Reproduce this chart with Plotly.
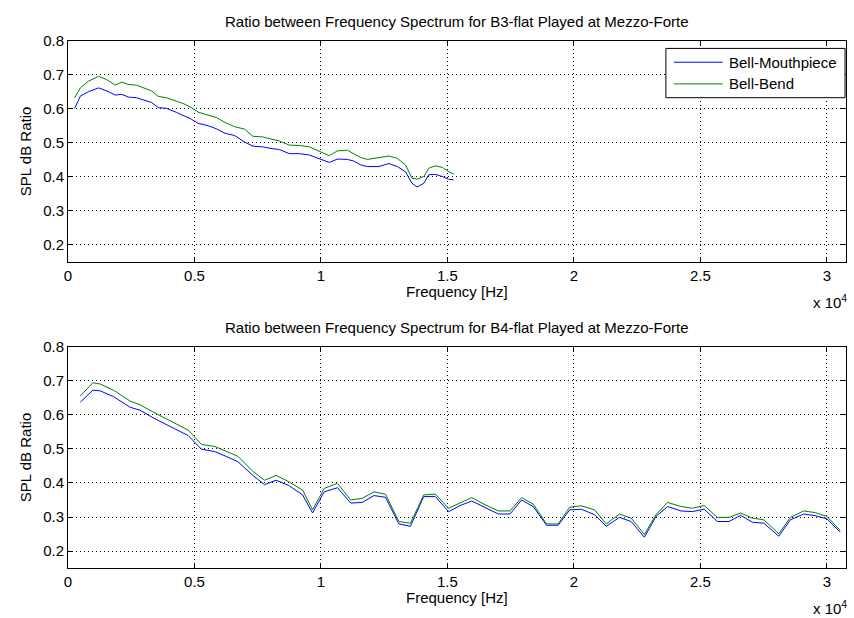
import plotly.graph_objects as go

# ---------------- data ----------------
top_freq = [264, 490, 815, 1210, 1535, 1865, 2125, 2390, 2715, 3045, 3305, 3570, 3895,
            4290, 4620, 4880, 5145, 5540, 5865, 6195, 6590, 6980, 7310, 7700, 8030, 8360,
            8750, 9145, 9540, 9930, 10330, 10650, 11050, 11310, 11570, 11830, 12290, 12690,
            13020, 13340, 13600, 13800, 14070, 14260, 14520, 14790, 15050, 15250]
top_mouth = [0.601, 0.637, 0.650, 0.661, 0.652, 0.640, 0.642, 0.634, 0.632, 0.624, 0.618, 0.603, 0.601,
             0.589, 0.579, 0.569, 0.557, 0.550, 0.541, 0.528, 0.521, 0.502, 0.490, 0.488, 0.483, 0.480,
             0.468, 0.468, 0.464, 0.454, 0.442, 0.452, 0.451, 0.446, 0.435, 0.430, 0.430, 0.439,
             0.430, 0.415, 0.381, 0.370, 0.381, 0.406, 0.407, 0.401, 0.393, 0.391]
top_bend = [0.632, 0.661, 0.681, 0.695, 0.685, 0.669, 0.678, 0.671, 0.669, 0.659, 0.652, 0.636, 0.632,
            0.622, 0.613, 0.603, 0.590, 0.581, 0.574, 0.560, 0.547, 0.540, 0.519, 0.517, 0.512, 0.505,
            0.493, 0.492, 0.488, 0.476, 0.462, 0.476, 0.478, 0.467, 0.457, 0.451, 0.457, 0.461,
            0.454, 0.435, 0.396, 0.393, 0.401, 0.425, 0.432, 0.428, 0.415, 0.408]

bot_freq = [488, 985, 1275, 1800, 2455, 2850, 3440, 4160, 4750, 5275, 5800, 6250, 6720, 7310,
            7770, 8225, 8720, 9276, 9669, 10128, 10653, 11177, 11636, 12095, 12555, 13080, 13539,
            14064, 14523, 15048, 15507, 15966, 16491, 17016, 17475, 17934, 18393, 18918, 19377,
            19836, 20295, 20820, 21279, 21804, 22263, 22788, 23247, 23706, 24231, 24690, 25150,
            25674, 26133, 26593, 27052, 27511, 28101, 28560, 29085, 29544, 30003, 30528]
bot_mouth = [0.637, 0.672, 0.670, 0.653, 0.622, 0.613, 0.588, 0.562, 0.539, 0.499, 0.492, 0.478, 0.462, 0.422,
             0.395, 0.408, 0.393, 0.365, 0.312, 0.374, 0.386, 0.341, 0.343, 0.363, 0.358, 0.280, 0.273,
             0.360, 0.360, 0.316, 0.334, 0.347, 0.328, 0.309, 0.309, 0.350, 0.331, 0.276, 0.276,
             0.321, 0.323, 0.307, 0.273, 0.299, 0.287, 0.241, 0.302, 0.331, 0.318, 0.316, 0.323,
             0.287, 0.287, 0.305, 0.285, 0.282, 0.244, 0.292, 0.309, 0.304, 0.295, 0.256]
bot_bend = [0.655, 0.694, 0.690, 0.672, 0.640, 0.629, 0.605, 0.578, 0.555, 0.513, 0.507, 0.493, 0.478, 0.434,
            0.408, 0.422, 0.404, 0.379, 0.321, 0.384, 0.399, 0.350, 0.355, 0.374, 0.367, 0.287, 0.282,
            0.365, 0.367, 0.326, 0.341, 0.357, 0.336, 0.318, 0.318, 0.357, 0.338, 0.280, 0.280,
            0.329, 0.333, 0.321, 0.280, 0.309, 0.297, 0.249, 0.307, 0.343, 0.331, 0.326, 0.334,
            0.299, 0.299, 0.312, 0.297, 0.292, 0.251, 0.299, 0.318, 0.313, 0.302, 0.261]

x_tickvals = [0, 5000, 10000, 15000, 20000, 25000, 30000]
x_ticktext = ["0", "0.5", "1", "1.5", "2", "2.5", "3"]
y_tickvals = [0.2, 0.3, 0.4, 0.5, 0.6, 0.7, 0.8]
y_ticktext = ["0.2", "0.3", "0.4", "0.5", "0.6", "0.7", "0.8"]
series_names = ["Bell-Mouthpiece", "Bell-Bend"]
titles = ["Ratio between Frequency Spectrum for B3-flat Played at Mezzo-Forte",
          "Ratio between Frequency Spectrum for B4-flat Played at Mezzo-Forte"]
x_range = [0, 30760]
y_range = [0.15, 0.8]

# ---------------- layout helpers ----------------
W, H = 854, 618
FONT = "Liberation Sans"
FS = 15
BLUE = "#0000ff"
GREEN = "#008000"
colors = [BLUE, GREEN]


def px(x):
    return x / W


def py(y):
    return 1 - y / H


fig = go.Figure()

fig.add_trace(go.Scatter(x=top_freq, y=top_mouth, mode="lines", name=series_names[0], showlegend=False,
                         line=dict(color=BLUE, width=1), xaxis="x", yaxis="y"))
fig.add_trace(go.Scatter(x=top_freq, y=top_bend, mode="lines", name=series_names[1], showlegend=False,
                         line=dict(color=GREEN, width=1), xaxis="x", yaxis="y"))
fig.add_trace(go.Scatter(x=bot_freq, y=bot_mouth, mode="lines", name=series_names[0], showlegend=False,
                         line=dict(color=BLUE, width=1), xaxis="x2", yaxis="y2"))
fig.add_trace(go.Scatter(x=bot_freq, y=bot_bend, mode="lines", name=series_names[1], showlegend=False,
                         line=dict(color=GREEN, width=1), xaxis="x2", yaxis="y2"))

AX_L, AX_R = 64.3, 846
TOP_T, TOP_B = 32, 256.7
BOT_T, BOT_B = 342.5, 567.5
x_dom = [px(AX_L), px(AX_R)]
top_dom = [py(TOP_B), py(TOP_T)]
bot_dom = [py(BOT_B), py(BOT_T)]

common_ax = dict(showline=True, linecolor="black", linewidth=1, mirror="allticks",
                 ticks="inside", ticklen=5, tickcolor="black", tickwidth=1,
                 showgrid=True, gridcolor="#000000", gridwidth=1, griddash="1px,3px",
                 zeroline=False, tickfont=dict(family=FONT, size=FS, color="black"))

xa = dict(common_ax, range=x_range, tickvals=x_tickvals, ticktext=x_ticktext, domain=x_dom)
ya = dict(common_ax, range=y_range, tickvals=y_tickvals, ticktext=y_ticktext)

fig.update_layout(
    width=W, height=H,
    margin=dict(l=0, r=0, t=0, b=0),
    paper_bgcolor="white", plot_bgcolor="white",
    font=dict(family=FONT, size=FS, color="black"),
    xaxis=dict(xa, anchor="y"),
    yaxis=dict(ya, domain=top_dom, anchor="x"),
    xaxis2=dict(xa, anchor="y2"),
    yaxis2=dict(ya, domain=bot_dom, anchor="x2"),
    showlegend=False,
)

anns = []
cx = (AX_L + AX_R) / 2
for title, ax_t, ax_b in [(titles[0], TOP_T, TOP_B), (titles[1], BOT_T, BOT_B)]:
    anns.append(dict(text=title, x=px(cx), y=py(ax_t - 19), xref="paper", yref="paper",
                     showarrow=False, xanchor="center", yanchor="middle",
                     font=dict(family=FONT, size=FS)))
    anns.append(dict(text="Frequency [Hz]", x=px(cx), y=py(ax_b + 30), xref="paper", yref="paper",
                     showarrow=False, xanchor="center", yanchor="middle",
                     font=dict(family=FONT, size=FS)))
    anns.append(dict(text="x 10<sup>4</sup>", x=px(849), y=py(ax_b + 40), xref="paper", yref="paper",
                     showarrow=False, xanchor="right", yanchor="middle",
                     font=dict(family=FONT, size=FS)))
    anns.append(dict(text="SPL dB Ratio", x=px(21), y=py((ax_t + ax_b) / 2), xref="paper", yref="paper",
                     showarrow=False, xanchor="center", yanchor="middle", textangle=-90,
                     font=dict(family=FONT, size=FS)))

# legend box (drawn to match the reference's legend geometry)
shapes = [dict(type="rect", xref="paper", yref="paper",
               x0=px(665), x1=px(845), y0=py(90), y1=py(40),
               line=dict(color="black", width=1), fillcolor="white", layer="above")]
for i, (name, col) in enumerate(zip(series_names, colors)):
    ly = 54 + i * 22
    shapes.append(dict(type="line", xref="paper", yref="paper",
                       x0=px(673), x1=px(722), y0=py(ly), y1=py(ly),
                       line=dict(color=col, width=1), layer="above"))
    anns.append(dict(text=name, x=px(726), y=py(ly), xref="paper", yref="paper",
                     showarrow=False, xanchor="left", yanchor="middle",
                     font=dict(family=FONT, size=FS)))

fig.update_layout(annotations=anns, shapes=shapes)

fig.write_html("out.html")
